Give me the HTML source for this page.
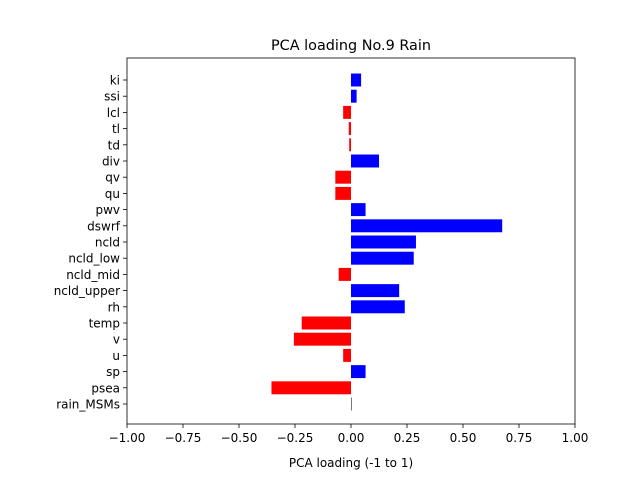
<!DOCTYPE html>
<html><head><meta charset="utf-8"><style>body{margin:0;background:#fff}svg text{font-family:"DejaVu Sans","Liberation Sans",sans-serif;fill:#000}</style></head>
<body>
<svg id="c" width="640" height="480"></svg>
<script>
const categories=["ki","ssi","lcl","tl","td","div","qv","qu","pwv","dswrf","ncld","ncld_low","ncld_mid","ncld_upper","rh","temp","v","u","sp","psea","rain_MSMs"];
const loadings=[0.045,0.025,-0.035,-0.01,-0.008,0.125,-0.07,-0.07,0.065,0.675,0.29,0.28,-0.055,0.215,0.24,-0.22,-0.255,-0.035,0.065,-0.355,0.001];
const xTicks=[-1,-0.75,-0.5,-0.25,0,0.25,0.5,0.75,1];
const xTickLabels=["\u22121.00","\u22120.75","\u22120.50","\u22120.25","0.00","0.25","0.50","0.75","1.00"];
const svg=document.getElementById('c');const NS='http://www.w3.org/2000/svg';
function mk(t,a,txt){const e=document.createElementNS(NS,t);for(const k in a)e.setAttribute(k,a[k]);if(txt!==undefined)e.textContent=txt;svg.appendChild(e);return e;}
const L=127,R=575,T=58,B=424;
const x=v=>L+(v+1)/2*(R-L);
const n=categories.length;const step=(404-80)/(n-2);
const y=i=>80+(i)*step;
// actually 21 categories: rain_MSMs at 404 is index 20
const step2=(404-80)/(n-1);
const yy=i=>80+i*step2;
const bh=step2*0.8;
categories.forEach((c,i)=>{
 const v=loadings[i];const x0=Math.min(x(0),x(v));const w=Math.max(Math.abs(x(v)-x(0)),0.8);
 const r=mk('rect',{x:x0,y:yy(i)-bh/2,width:w,height:bh,fill:v>=0.005?'#0000ff':(v<=-0.005?'#ff0000':'#555')});
 
 
 mk('line',{x1:L,x2:L-4,y1:yy(i),y2:yy(i),stroke:'#000','stroke-width':0.8});
 const t=mk('text',{x:L-7,y:yy(i)+4.5,'text-anchor':'end','font-size':12},c);
 
 
});
xTicks.forEach((v,i)=>{
 mk('line',{x1:x(v),x2:x(v),y1:B,y2:B+4,stroke:'#000','stroke-width':0.8});
 const t=mk('text',{x:x(v),y:B+18,'text-anchor':'middle','font-size':12},xTickLabels[i]);
 
 
});
const f=mk('rect',{x:L,y:T,width:R-L,height:B-T,fill:'none',stroke:'#000','stroke-width':0.8});


const tt=mk('text',{x:(L+R)/2,y:50,'text-anchor':'middle','font-size':14.4},'PCA loading No.9 Rain');


const xl=mk('text',{x:(L+R)/2,y:467,'text-anchor':'middle','font-size':12},'PCA loading (-1 to 1)');


</script>
</body></html>
